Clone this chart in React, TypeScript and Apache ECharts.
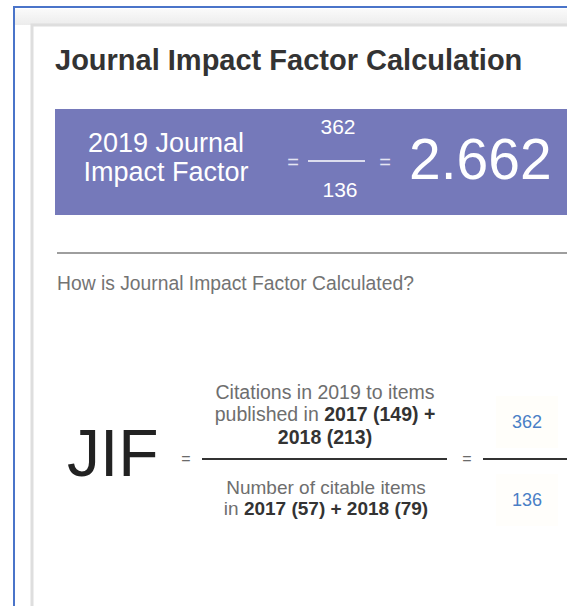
import React, { useEffect, useRef } from "react";
import * as echarts from "echarts";

// ---- data ----
const jifYears = [2019];
const pubYears = [2017, 2018];
const citations = [149, 213];
const citableItems = [57, 79];
const titleText = ["Journal Impact Factor Calculation"];
const questionText = ["How is Journal Impact Factor Calculated?"];

const FONT = '"Liberation Sans", Arial, sans-serif';

export default function App() {
  const ref = useRef<HTMLDivElement>(null);
  useEffect(() => {
    if (!ref.current) return;
    const chart = echarts.init(ref.current, null, { renderer: "svg" });
    const totalCit = citations.reduce((a, b) => a + b, 0);
    const totalItems = citableItems.reduce((a, b) => a + b, 0);
    const jif = (totalCit / totalItems).toFixed(3);
    const year = jifYears[0];

    const txt = (x: number, y: number, text: string, size: number, fill: string, opts: any = {}) => ({
      type: "text",
      x,
      y,
      silent: true,
      style: {
        text,
        fill,
        font: `${opts.weight || "normal"} ${size}px ${FONT}`,
        textAlign: opts.align || "left",
        align: opts.align || "left",
        textVerticalAlign: "middle",
        verticalAlign: "middle",
        lineHeight: opts.lineHeight,
      },
    });

    const rich = (size: number, lh: number) => ({
      r: { fill: "#6e6e6e", fontSize: size, fontFamily: FONT, fontWeight: "normal", lineHeight: lh },
      b: { fill: "#333333", fontSize: size, fontFamily: FONT, fontWeight: "bold", lineHeight: lh },
    });

    const numerText =
      `{r|Citations in ${year} to items}\n{r|published in }{b|${pubYears[0]} (${citations[0]}) +}\n{b|${pubYears[1]} (${citations[1]})}`;
    const denomText =
      `{r|Number of citable items}\n{r|in }{b|${pubYears[0]} (${citableItems[0]}) + ${pubYears[1]} (${citableItems[1]})}`;

    chart.setOption({
      animation: false,
      graphic: {
        elements: [
          { type: "rect", shape: { x: 0, y: 0, width: 567, height: 606 }, style: { fill: "#ffffff" }, silent: true },
          {
            type: "rect",
            shape: { x: 15, y: 9, width: 560, height: 16 },
            style: {
              fill: new echarts.graphic.LinearGradient(0, 0, 0, 1, [
                { offset: 0, color: "#fafafa" },
                { offset: 1, color: "#ececec" },
              ]),
            },
            silent: true,
          },
          {
            type: "rect",
            shape: { x: 32, y: 25, width: 560, height: 600 },
            style: { fill: "#ffffff", stroke: "#dedede", lineWidth: 3 },
            silent: true,
          },
          {
            type: "polyline",
            shape: { points: [[14, 620], [14, 7], [580, 7]] },
            style: { stroke: "#4a74c9", lineWidth: 2, fill: "none" },
            silent: true,
          },
          txt(55, 60, titleText[0], 29, "#333333", { weight: "bold" }),
          {
            type: "rect",
            shape: { x: 55, y: 109, width: 540, height: 106 },
            style: { fill: "#7579ba" },
            silent: true,
          },
          txt(166, 157, `${year} Journal\nImpact Factor`, 27, "#ffffff", { align: "center", lineHeight: 29 }),
          txt(293, 162, "=", 20, "#e4e5f3", { align: "center" }),
          txt(338, 126, String(totalCit), 21, "#ffffff", { align: "center" }),
          {
            type: "line",
            shape: { x1: 308, y1: 161, x2: 365, y2: 161 },
            style: { stroke: "#ffffff", lineWidth: 1.5 },
            silent: true,
          },
          txt(340, 189, String(totalItems), 21, "#ffffff", { align: "center" }),
          txt(385, 162, "=", 20, "#e4e5f3", { align: "center" }),
          txt(409, 159, jif, 57, "#ffffff"),
          {
            type: "line",
            shape: { x1: 57, y1: 253, x2: 567, y2: 253 },
            style: { stroke: "#9e9e9e", lineWidth: 2 },
            silent: true,
          },
          txt(57, 283, questionText[0], 19.3, "#737373"),
          txt(67, 453, "JIF", 66, "#222222"),
          txt(186, 458, "=", 16, "#6a6a6a", { align: "center" }),
          {
            type: "text",
            x: 325,
            y: 414,
            silent: true,
            style: {
              text: numerText,
              textAlign: "center",
              align: "center",
              textVerticalAlign: "middle",
              verticalAlign: "middle",
              rich: rich(19.5, 22.5),
            },
          },
          {
            type: "line",
            shape: { x1: 202, y1: 459, x2: 447, y2: 459 },
            style: { stroke: "#333333", lineWidth: 2 },
            silent: true,
          },
          {
            type: "text",
            x: 326,
            y: 498,
            silent: true,
            style: {
              text: denomText,
              textAlign: "center",
              align: "center",
              textVerticalAlign: "middle",
              verticalAlign: "middle",
              rich: rich(19, 21.5),
            },
          },
          txt(467, 458, "=", 16, "#6a6a6a", { align: "center" }),
          { type: "rect", shape: { x: 496, y: 396, width: 62, height: 52 }, style: { fill: "#fffefa" }, silent: true },
          { type: "rect", shape: { x: 496, y: 474, width: 62, height: 52 }, style: { fill: "#fffefb" }, silent: true },
          {
            type: "line",
            shape: { x1: 483, y1: 459, x2: 567, y2: 459 },
            style: { stroke: "#333333", lineWidth: 2 },
            silent: true,
          },
          txt(527, 422, String(totalCit), 18, "#4a7fc6", { align: "center" }),
          txt(527, 500, String(totalItems), 18, "#4a7fc6", { align: "center" }),
        ],
      },
    });
    return () => chart.dispose();
  }, []);
  return (
    <div
      ref={ref}
      style={{ position: "fixed", left: 0, top: 0, width: 567, height: 606, background: "#ffffff" }}
    />
  );
}
